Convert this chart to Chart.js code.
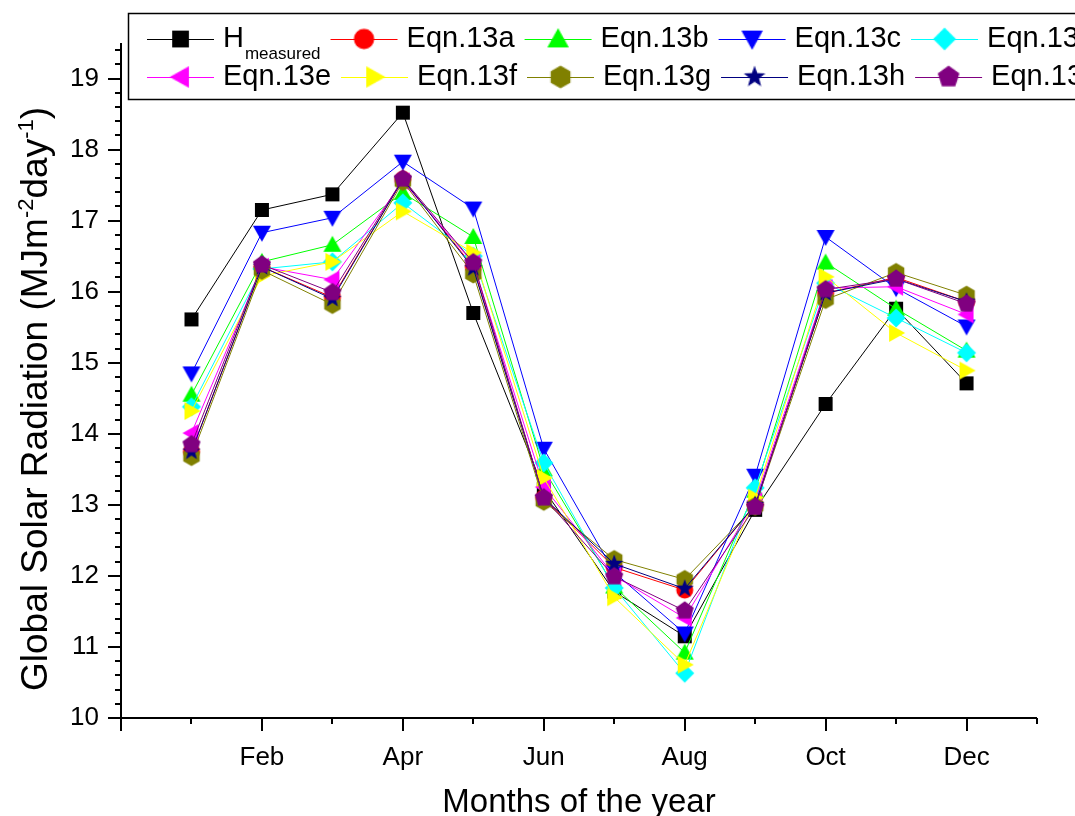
<!DOCTYPE html>
<html>
<head>
<meta charset="utf-8">
<script src="https://cdn.jsdelivr.net/npm/chart.js@4.4.1/dist/chart.umd.min.js"></script>
<style>
  html, body { margin: 0; padding: 0; background: #fff; overflow: hidden; }
  #wrap { width: 1075px; height: 816px; }
</style>
</head>
<body>
<div id="wrap"><canvas id="chart" width="1075" height="816"></canvas></div>
<script>
// ── 데이터 ──
const months = [1, 2, 3, 4, 5, 6, 7, 8, 9, 10, 11, 12];
const monthTickLabels = { 2: 'Feb', 4: 'Apr', 6: 'Jun', 8: 'Aug', 10: 'Oct', 12: 'Dec' };

const hMeasured = [15.61, 17.15, 17.37, 18.52, 15.70, 13.22, 11.78, 11.15, 12.93, 14.42, 15.76, 14.71];
const eqn13a    = [13.75, 16.35, 15.92, 17.58, 16.35, 13.10, 12.12, 11.80, 13.00, 15.98, 16.20, 15.86];
const eqn13b    = [14.55, 16.42, 16.66, 17.39, 16.77, 13.50, 11.85, 10.92, 13.20, 16.41, 15.76, 15.17];
const eqn13c    = [14.85, 16.83, 17.04, 17.83, 17.17, 13.79, 12.05, 11.19, 13.41, 16.77, 16.05, 15.51];
const eqn13d    = [14.38, 16.32, 16.42, 17.25, 16.50, 13.59, 11.83, 10.63, 13.24, 16.12, 15.63, 15.14];
const eqn13e    = [14.01, 16.35, 16.17, 17.55, 16.40, 13.25, 12.00, 11.41, 13.05, 16.05, 16.07, 15.68];
const eqn13f    = [14.32, 16.22, 16.42, 17.13, 16.55, 13.38, 11.70, 10.75, 13.10, 16.21, 15.42, 14.89];
const eqn13g    = [13.68, 16.30, 15.82, 17.55, 16.25, 13.05, 12.23, 11.95, 12.98, 15.89, 16.27, 15.95];
const eqn13h    = [13.75, 16.35, 15.90, 17.58, 16.33, 13.10, 12.17, 11.82, 13.00, 15.98, 16.18, 15.86];
const eqn13i    = [13.85, 16.38, 15.99, 17.59, 16.41, 13.10, 11.99, 11.51, 12.97, 16.03, 16.18, 15.83];

const seriesLabels = ['H', 'Eqn.13a', 'Eqn.13b', 'Eqn.13c', 'Eqn.13d', 'Eqn.13e', 'Eqn.13f', 'Eqn.13g', 'Eqn.13h', 'Eqn.13i'];
const seriesValues = [hMeasured, eqn13a, eqn13b, eqn13c, eqn13d, eqn13e, eqn13f, eqn13g, eqn13h, eqn13i];
const seriesColors = ['#000000', '#FF0000', '#00FF00', '#0000FF', '#00FFFF', '#FF00FF', '#FFFF00', '#808000', '#000080', '#800080'];
const seriesShapes = ['square', 'circle', 'triUp', 'triDown', 'diamond', 'triLeft', 'triRight', 'hexagon', 'star', 'pentagon'];

const FONT = "'Liberation Sans', Arial, Helvetica, sans-serif";

// ── 마커 ──
function makeMarker(shape, color) {
  const c = document.createElement('canvas');
  c.width = 24; c.height = 24;
  const g = c.getContext('2d');
  g.fillStyle = color;
  g.translate(12, 12);
  g.beginPath();
  const poly = (n, r) => {
    for (let k = 0; k < n; k++) {
      const a = -Math.PI / 2 + k * 2 * Math.PI / n;
      const px = r * Math.cos(a), py = r * Math.sin(a);
      k ? g.lineTo(px, py) : g.moveTo(px, py);
    }
    g.closePath();
  };
  if (shape === 'square') g.rect(-7, -7, 14, 14);
  else if (shape === 'circle') g.arc(0, 0, 8.5, 0, 2 * Math.PI);
  else if (shape === 'triUp') { g.moveTo(0, -9); g.lineTo(9, 7); g.lineTo(-9, 7); g.closePath(); }
  else if (shape === 'triDown') { g.moveTo(0, 9); g.lineTo(9, -7); g.lineTo(-9, -7); g.closePath(); }
  else if (shape === 'triLeft') { g.moveTo(-9, 0); g.lineTo(7, -9); g.lineTo(7, 9); g.closePath(); }
  else if (shape === 'triRight') { g.moveTo(9, 0); g.lineTo(-7, -9); g.lineTo(-7, 9); g.closePath(); }
  else if (shape === 'diamond') { g.moveTo(0, -9.5); g.lineTo(9.5, 0); g.lineTo(0, 9.5); g.lineTo(-9.5, 0); g.closePath(); }
  else if (shape === 'hexagon') poly(6, 9.5);
  else if (shape === 'pentagon') poly(5, 9.5);
  else if (shape === 'star') {
    for (let k = 0; k < 10; k++) {
      const r = k % 2 ? 3.9 : 9.5;
      const a = -Math.PI / 2 + k * Math.PI / 5;
      k ? g.lineTo(r * Math.cos(a), r * Math.sin(a)) : g.moveTo(r * Math.cos(a), r * Math.sin(a));
    }
    g.closePath();
  }
  g.fill();
  return c;
}
const markerImgs = seriesShapes.map((s, i) => makeMarker(s, seriesColors[i]));

// ── 축 (눈금 직접 그림) ──
const axesPlugin = {
  id: 'originAxes',
  afterDraw(chart) {
    const { ctx, chartArea: a, scales: { x, y } } = chart;
    ctx.save();
    ctx.strokeStyle = '#000';
    ctx.lineWidth = 2;
    ctx.beginPath();
    ctx.moveTo(a.left, a.top); ctx.lineTo(a.left, a.bottom);
    ctx.moveTo(a.left - 1, a.bottom); ctx.lineTo(a.right, a.bottom);
    // y ticks
    for (let v = 10; v <= 19.5001; v += 0.2) {
      const major = Math.abs(v - Math.round(v)) < 1e-6;
      const py = Math.round(y.getPixelForValue(v));
      ctx.moveTo(a.left, py); ctx.lineTo(a.left - (major ? 13 : 6), py);
    }
    // x ticks
    for (let m = 0; m <= 13; m++) {
      const px = Math.round(x.getPixelForValue(m));
      ctx.moveTo(px, a.bottom); ctx.lineTo(px, a.bottom + (m % 2 === 0 ? 13 : 6));
    }
    ctx.stroke();

    // 축 제목
    ctx.fillStyle = '#000';
    ctx.textBaseline = 'alphabetic';
    ctx.font = `33px ${FONT}`;
    ctx.textAlign = 'center';
    ctx.fillText('Months of the year', (a.left + a.right) / 2, 812);

    const parts = [
      ['Global Solar Radiation (MJm', 37, 0], ['-2', 22, -14], ['day', 37, 0], ['-1', 22, -14], [')', 37, 0]
    ];
    let total = 0;
    ctx.textAlign = 'left';
    parts.forEach(p => { ctx.font = `${p[1]}px ${FONT}`; p.w = ctx.measureText(p[0]).width; total += p.w; });
    ctx.translate(47, 399);
    ctx.rotate(-Math.PI / 2);
    let cx = -total / 2;
    parts.forEach(p => { ctx.font = `${p[1]}px ${FONT}`; ctx.fillText(p[0], cx, p[2]); cx += p.w; });
    ctx.restore();
  }
};

// ── 범례 ──
const legendPlugin = {
  id: 'boxLegend',
  afterDraw(chart) {
    const ctx = chart.ctx;
    ctx.save();
    ctx.fillStyle = '#fff';
    ctx.fillRect(128, 13, 1000, 87);
    ctx.strokeStyle = '#000';
    ctx.lineWidth = 1.5;
    ctx.strokeRect(128.5, 13.5, 1000, 86);
    let x0 = 147;
    seriesLabels.forEach((lab, i) => {
      const row = Math.floor(i / 5);
      if (i % 5 === 0) x0 = 147;
      const yc = row === 0 ? 39 : 77;
      ctx.strokeStyle = seriesColors[i];
      ctx.lineWidth = 1;
      ctx.beginPath();
      ctx.moveTo(x0, yc + 0.5); ctx.lineTo(x0 + 67, yc + 0.5);
      ctx.stroke();
      ctx.drawImage(markerImgs[i], x0 + 33.5 - 14.4, yc - 14.4, 28.8, 28.8);
      ctx.fillStyle = '#000';
      ctx.textAlign = 'left';
      ctx.textBaseline = 'alphabetic';
      ctx.font = `29px ${FONT}`;
      const tx = x0 + 76;
      ctx.fillText(lab, tx, yc + 8);
      let w = ctx.measureText(lab).width;
      if (i === 0) {
        ctx.font = `17px ${FONT}`;
        ctx.fillText('measured', tx + w + 1, yc + 20);
        w += 1 + ctx.measureText('measured').width;
      }
      x0 = tx + w + 10;
    });
    ctx.restore();
  }
};

// ── 차트 ──
const datasets = seriesValues.map((vals, i) => ({
  label: seriesLabels[i],
  data: months.map((m, k) => ({ x: m, y: vals[k] })),
  borderColor: seriesColors[i],
  backgroundColor: seriesColors[i],
  borderWidth: 1,
  pointStyle: markerImgs[i],
  pointRadius: 8,
  tension: 0,
  order: -i
}));

new Chart(document.getElementById('chart'), {
  type: 'line',
  data: { datasets },
  options: {
    responsive: false,
    animation: false,
    events: [],
    devicePixelRatio: 1,
    layout: { padding: { top: 43, right: 38, left: 0, bottom: 0 } },
    plugins: { legend: { display: false }, tooltip: { enabled: false } },
    scales: {
      x: {
        type: 'linear', min: 0, max: 13,
        grid: { display: false, drawTicks: false },
        border: { display: false },
        ticks: {
          stepSize: 1, autoSkip: false, maxRotation: 0, padding: 24,
          color: '#000', font: { family: FONT, size: 26 },
          callback: v => monthTickLabels[v] || ''
        },
        afterFit: s => { s.height = 98; }
      },
      y: {
        min: 10, max: 19.5,
        grid: { display: false, drawTicks: false },
        border: { display: false },
        afterBuildTicks: s => { s.ticks = s.ticks.filter(t => Number.isInteger(t.value)); },
        ticks: {
          stepSize: 1, padding: 22,
          color: '#000', font: { family: FONT, size: 26 }
        },
        afterFit: s => { s.width = 121; }
      }
    }
  },
  plugins: [axesPlugin, legendPlugin]
});
</script>
</body>
</html>
